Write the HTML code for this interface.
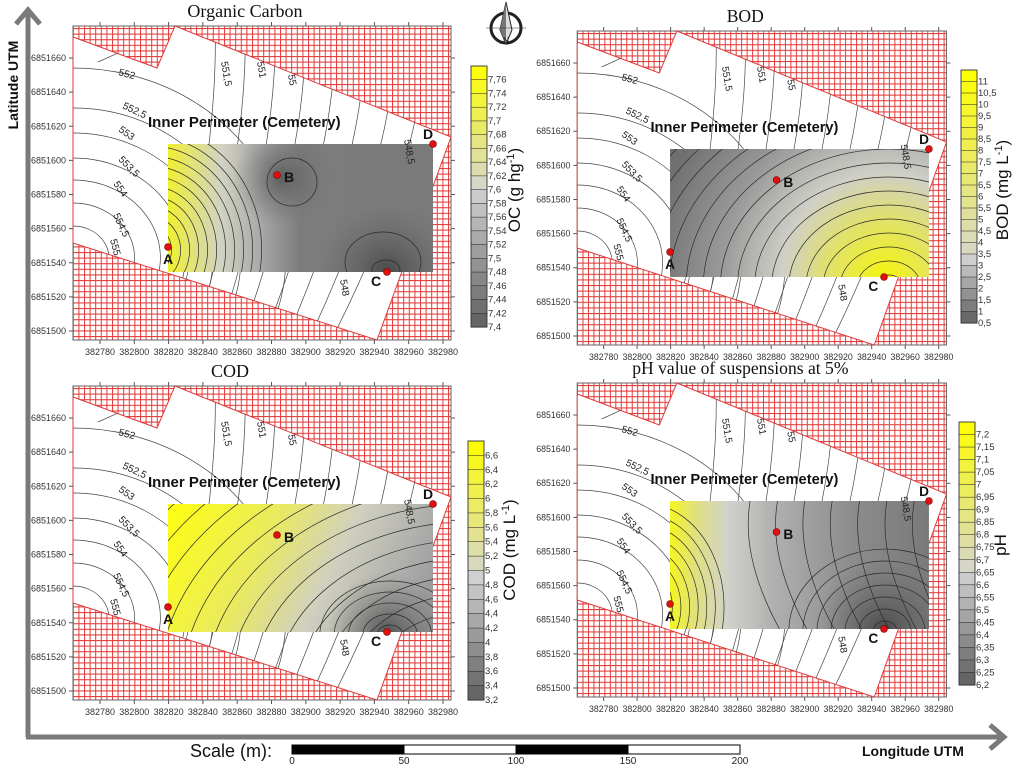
<!DOCTYPE html>
<html><head><meta charset="utf-8"><style>
html,body{margin:0;padding:0;background:#fff;width:1018px;height:768px;overflow:hidden;}
svg{display:block;font-family:"Liberation Sans",sans-serif;}
</style></head><body>
<svg id="fig" width="1018" height="768" viewBox="0 0 1018 768" xmlns="http://www.w3.org/2000/svg" overflow="hidden">
<defs>
<pattern id="hatch" width="5.6" height="5.6" patternUnits="userSpaceOnUse">
<rect width="5.6" height="5.6" fill="#fff"/>
<path d="M0 0.5H5.6M0.5 0V5.6" stroke="#e23a3a" stroke-width="1"/>
</pattern>
<clipPath id="rectClip"><rect x="168" y="144" width="265" height="128"/></clipPath>
<clipPath id="outerClip"><path d="M73 37 L157 68 L175 26 L451 137 L377 340 L73 243 Z M168 144 V272 H433 V144 Z" clip-rule="evenodd"/></clipPath>
<linearGradient id="gOC" x1="0" x2="1" y1="0" y2="0">
<stop offset="0" stop-color="#f0f030"/><stop offset="0.08" stop-color="#e4e470"/><stop offset="0.2" stop-color="#d2d2c4"/><stop offset="0.35" stop-color="#a8a8a8"/><stop offset="0.5" stop-color="#7c7c7c"/><stop offset="1" stop-color="#7a7a7a"/>
</linearGradient>
<radialGradient id="gBOD" cx="387" cy="272" r="300" gradientUnits="userSpaceOnUse">
<stop offset="0" stop-color="#f5f510"/><stop offset="0.2" stop-color="#e0e070"/><stop offset="0.35" stop-color="#cfcfc8"/><stop offset="0.55" stop-color="#9a9a9a"/><stop offset="0.8" stop-color="#707070"/><stop offset="1" stop-color="#686868"/>
</radialGradient>
<linearGradient id="gCOD" x1="168" y1="144" x2="433" y2="272" gradientUnits="userSpaceOnUse">
<stop offset="0" stop-color="#ffff10"/><stop offset="0.35" stop-color="#eaea60"/><stop offset="0.6" stop-color="#d0d0c0"/><stop offset="0.85" stop-color="#a8a8a8"/><stop offset="1" stop-color="#909090"/>
</linearGradient>
<radialGradient id="gCODc" cx="387" cy="272" r="60" gradientUnits="userSpaceOnUse">
<stop offset="0" stop-color="#555" stop-opacity="1"/><stop offset="1" stop-color="#777" stop-opacity="0"/>
</radialGradient>
<linearGradient id="gPH" x1="0" x2="1" y1="0" y2="0">
<stop offset="0" stop-color="#f5f520"/><stop offset="0.1" stop-color="#e0e080"/><stop offset="0.22" stop-color="#d2d2cc"/><stop offset="0.4" stop-color="#b0b0b0"/><stop offset="0.7" stop-color="#8c8c8c"/><stop offset="1" stop-color="#7a7a7a"/>
</linearGradient>
<radialGradient id="gDarkC" cx="387" cy="272" r="70" gradientUnits="userSpaceOnUse">
<stop offset="0" stop-color="#4a4a4a" stop-opacity="1"/><stop offset="1" stop-color="#6a6a6a" stop-opacity="0"/>
</radialGradient>
<radialGradient id="gDarkB" cx="283" cy="178" r="50" gradientUnits="userSpaceOnUse">
<stop offset="0" stop-color="#5e5e5e" stop-opacity="1"/><stop offset="1" stop-color="#777" stop-opacity="0"/>
</radialGradient>
</defs>
<g id="panels"></g>
<g id="chrome"></g>
</svg>
<script>
// ---- data ----
const xTicks = [382780,382800,382820,382840,382860,382880,382900,382920,382940,382960,382980];
const yTicks = [6851660,6851640,6851620,6851600,6851580,6851560,6851540,6851520,6851500];
const ocTicks = ["7,76","7,74","7,72","7,7","7,68","7,66","7,64","7,62","7,6","7,58","7,56","7,54","7,52","7,5","7,48","7,46","7,44","7,42","7,4"];
const bodTicks = ["11","10,5","10","9,5","9","8,5","8","7,5","7","6,5","6","5,5","5","4,5","4","3,5","3","2,5","2","1,5","1","0,5"];
const codTicks = ["6,6","6,4","6,2","6","5,8","5,6","5,4","5,2","5","4,8","4,6","4,4","4,2","4","3,8","3,6","3,4","3,2"];
const phTicks = ["7,2","7,15","7,1","7,05","7","6,95","6,9","6,85","6,8","6,75","6,7","6,65","6,6","6,55","6,5","6,45","6,4","6,35","6,3","6,25","6,2"];
const elevLabels = ["552","552,5","553","553,5","554","554,5","555"];
const scaleLabels = ["0","50","100","150","200"];

const NS="http://www.w3.org/2000/svg";
function el(tag, attrs, parent){const e=document.createElementNS(NS,tag);for(const k in attrs)e.setAttribute(k,attrs[k]);if(parent)parent.appendChild(e);return e;}
const xScale = v => 100 + (v-382780)*(343/200);
const yScale = v => 58 + (6851660-v)*(273/160);

function bandColor(f, split){
  if(f<split){const t=f/split;const g=Math.round(95+t*120);return `rgb(${g},${g},${g})`;}
  const t=(f-split)/(1-split);
  return `rgb(${Math.round(215+t*40)},${Math.round(215+t*40)},${Math.round(200-t*200)})`;
}
// elliptical arc path from angle a0 to a1 (degrees, svg orientation)
function arc(g,cx,cy,rx,ry,a0,a1){
  const p=a=>[cx+rx*Math.cos(a*Math.PI/180),cy+ry*Math.sin(a*Math.PI/180)];
  const s=p(a0),e=p(a1);const large=(a1-a0)>180?1:0;
  el('path',{d:`M${s[0].toFixed(1)} ${s[1].toFixed(1)} A${rx} ${ry} 0 ${large} 1 ${e[0].toFixed(1)} ${e[1].toFixed(1)}`},g);
}
function arcs(g,cx,cy,r0,r1,st,ex,a0,a1){for(let r=r0;r<=r1;r+=st)arc(g,cx,cy,r*(ex||1),r,a0,a1);}

function drawPanel(p){
  const root=document.getElementById('panels');
  const g=el('g',{transform:`translate(${p.tx},${p.ty}) scale(${p.sx},${p.sy})`},root);
  
  
  const fr=el('rect',{x:73,y:26,width:378,height:314,fill:'url(#hatch)',stroke:'#666','stroke-width':1},g);
  
  
  const wp=el('path',{d:'M73 37 L157 68 L175 26 L451 137 L377 340 L73 243 Z',fill:'#fff',stroke:'#e23a3a','stroke-width':1},g);
  
  
  const oc=el('g',{'clip-path':'url(#outerClip)',fill:'none',stroke:'#444','stroke-width':0.7},g);
  [32,55,78,100,125,150,190].forEach(r=>arc(oc,73,258,r*1.12,r,-90,35));
  el('path',{d:'M98 62 Q125 50 150 38'},oc);
  for(let x=215;x<=450;x+=30){
    el('path',{d:`M${x} 24 Q${x+4} 150 ${x-40-(x-200)*0.25} 345`},oc);
  }
  const rg=el('g',{},g);
  
  
  el('rect',{x:168,y:144,width:265,height:128,fill:p.fill},rg);
  (p.extra||[]).forEach(f=>el('rect',{x:168,y:144,width:265,height:128,fill:f},rg));
  const ic=el('g',{'clip-path':'url(#rectClip)',fill:'none',stroke:'#2a2a2a','stroke-width':0.7},g);
  p.inner(ic);
  const ly=[75,108,131,160,184,215,240], lx=[118,122,118,118,113,113,110];
  elevLabels.forEach((t,i)=>{const e=el('text',{x:lx[i],y:ly[i],'font-size':10,fill:'#222',transform:`rotate(${15+i*10} ${lx[i]} ${ly[i]})`},g);e.textContent=t;});
  [["551,5",221,62],["551",257,62],["55",288,75],["548,5",404,140],["548",340,280]].forEach(a=>{const e=el('text',{x:a[1],y:a[2],'font-size':10,fill:'#222',transform:`rotate(80 ${a[1]} ${a[2]})`},g);e.textContent=a[0];});
  xTicks.forEach(v=>{const x=xScale(v);el('line',{x1:x,x2:x,y1:340,y2:344,stroke:'#555'},g);el('line',{x1:x,x2:x,y1:22,y2:26,stroke:'#555'},g);
    const t=el('text',{x:x,y:355,'font-size':9,'text-anchor':'middle',fill:'#333'},g);t.textContent=v;
    });
  yTicks.forEach(v=>{const y=yScale(v);el('line',{x1:69,x2:73,y1:y,y2:y,stroke:'#555'},g);el('line',{x1:451,x2:455,y1:y,y2:y,stroke:'#555'},g);
    const t=el('text',{x:66,y:y+3,'font-size':9,'text-anchor':'end',fill:'#333'},g);t.textContent=v;
    });
  const tt=el('text',{x:p.titleX,y:17,'font-size':18,'text-anchor':'middle','font-family':'"Liberation Serif",serif',fill:'#111'},g);
  tt.textContent=p.title;
  
  
  const ip=el('text',{x:148,y:127,'font-size':15,'font-weight':'bold',fill:'#111'},g);
  ip.textContent='Inner Perimeter (Cemetery)';
  
  
  [["A",168,247,163,264],["B",277,175,284,182],["C",387,272,371,286],["D",433,144,423,139]].forEach(a=>{
    const c=el('circle',{cx:a[1],cy:a[2],r:3.5,fill:'#e01010',stroke:'#700','stroke-width':0.6},g);
    
    
    const t=el('text',{x:a[3],y:a[4],'font-size':14,'font-weight':'bold',fill:'#111'},g);t.textContent=a[0];
  });
  const cb=el('g',{},root);
  
  
  const n=p.ticks.length; const h=p.cb.y1-p.cb.y0; const bh=h/n;
  for(let i=0;i<n;i++){
    const y=p.cb.y0+i*bh; const f=1-(i+0.5)/n;
    el('rect',{x:p.cb.x,y:y,width:16,height:bh+0.3,fill:bandColor(f,p.split),stroke:'#222','stroke-width':0.5},cb);
    const t=el('text',{x:p.cb.x+17,y:y+bh+3,'font-size':9.5,fill:'#333'},cb);t.textContent=p.ticks[i];
  }
  el('rect',{x:p.cb.x,y:p.cb.y0,width:16,height:h,fill:'none',stroke:'#333','stroke-width':0.8},cb);
  const lb=el('text',{x:p.cbLabel[0],y:p.cbLabel[1],'font-size':17,'text-anchor':'middle',fill:'#111',transform:`rotate(-90 ${p.cbLabel[0]} ${p.cbLabel[1]})`},cb);
  lb.innerHTML=p.label;
  
  
}
const panels=[
 {name:'organic-carbon',title:'Organic Carbon',titleX:245,tx:0,ty:0,sx:1,sy:1,fill:'url(#gOC)',extra:['url(#gDarkB)','url(#gDarkC)'],split:0.55,
  ticks:ocTicks,cb:{x:471,y0:66,y1:327},cbLabel:[520,190],label:'OC (g hg<tspan dy="-6" font-size="11">-1</tspan><tspan dy="6">)</tspan>',
  inner:g=>{arcs(g,150,250,14,130,10,0.9,-90,40);el('ellipse',{cx:292,cy:182,rx:25,ry:24},g);el('ellipse',{cx:383,cy:262,rx:38,ry:30},g);el('ellipse',{cx:386,cy:270,rx:14,ry:10},g);}},
 {name:'bod',title:'BOD',titleX:245,tx:505.9,ty:5,sx:0.977,sy:1,fill:'url(#gBOD)',split:0.27,
  ticks:bodTicks,cb:{x:961,y0:70,y1:323},cbLabel:[1008,190],label:'BOD (mg L<tspan dy="-6" font-size="11">-1</tspan><tspan dy="6">)</tspan>',
  inner:g=>{arcs(g,392,282,12,330,14,1.25,180,360);}},
 {name:'cod',title:'COD',titleX:230,tx:0,ty:360,sx:1,sy:1,fill:'url(#gCOD)',extra:['url(#gCODc)'],split:0.5,
  ticks:codTicks,cb:{x:468,y0:441,y1:700},cbLabel:[515,550],label:'COD (mg L<tspan dy="-6" font-size="11">-1</tspan><tspan dy="6">)</tspan>',
  inner:g=>{arcs(g,470,330,60,330,18,1.3,180,270);arcs(g,390,275,10,55,11,1.3,180,360);}},
 {name:'ph',title:'pH value of suspensions at 5%',titleX:240,tx:505.9,ty:357,sx:0.977,sy:1,fill:'url(#gPH)',extra:['url(#gDarkC)'],split:0.45,
  ticks:phTicks,cb:{x:959,y0:422,y1:685},cbLabel:[1006,545],label:'pH',
  inner:g=>{arcs(g,140,250,16,110,11,0.8,-90,30);arcs(g,388,274,10,90,12,1.2,180,360);for(let x=250;x<=420;x+=28)el('path',{d:`M${x} 144 Q${x-10} 200 ${x+30} 272`},g);}}
];
panels.forEach(drawPanel);

const ch=document.getElementById('chrome');
const va=el('g',{},ch);


el('line',{x1:28,y1:737,x2:28,y2:14,stroke:'#7a7a7a','stroke-width':5},va);
el('path',{d:'M16 24 L28 10 L40 24',fill:'none',stroke:'#7a7a7a','stroke-width':5},va);
const ha=el('g',{},ch);


el('line',{x1:26,y1:737,x2:1002,y2:737,stroke:'#7a7a7a','stroke-width':5},ha);
el('path',{d:'M990 725 L1004 737 L990 749',fill:'none',stroke:'#7a7a7a','stroke-width':5},ha);
const lat=el('text',{x:18,y:85,'font-size':14,'font-weight':'bold',fill:'#111','text-anchor':'middle',transform:'rotate(-90 18 85)'},ch);
lat.textContent='Latitude UTM';


const lon=el('text',{x:862,y:756,'font-size':14,'font-weight':'bold',fill:'#111'},ch);
lon.textContent='Longitude UTM';


const cp=el('g',{},ch);


el('circle',{cx:506,cy:28,r:15,fill:'none',stroke:'#222','stroke-width':3},cp);
el('path',{d:'M506 2 L512 30 L506 44 L500 30 Z',fill:'#ddd',stroke:'#222','stroke-width':1},cp);
el('path',{d:'M506 2 L500 30 L506 44 Z',fill:'#777'},cp);
el('line',{x1:486,y1:28,x2:526,y2:28,stroke:'#333','stroke-width':0.6},cp);
const nn=el('text',{x:506,y:44,'font-size':9,'text-anchor':'middle','font-family':'"Liberation Serif",serif',fill:'#111'},cp);nn.textContent='N';
const sb=el('g',{},ch);


const st=el('text',{x:190,y:757,'font-size':18,fill:'#111'},sb);st.textContent='Scale (m):';
const x0=292,x1=740,sbw=(x1-x0)/4;
for(let i=0;i<4;i++){el('rect',{x:x0+i*sbw,y:745,width:sbw,height:9,fill:i%2?'#fff':'#000',stroke:'#000','stroke-width':1},sb);}
scaleLabels.forEach((s,i)=>{const t=el('text',{x:x0+i*sbw,y:764,'font-size':10,'text-anchor':'middle',fill:'#222'},sb);t.textContent=s;});
</script>
</body></html>
